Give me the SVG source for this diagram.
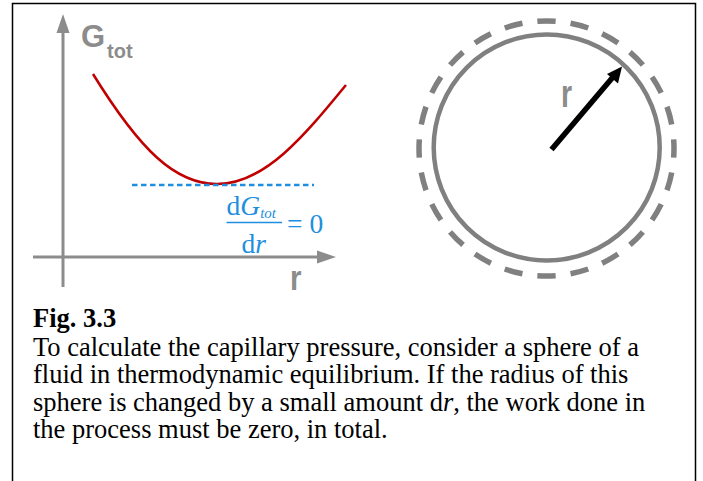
<svg xmlns="http://www.w3.org/2000/svg" width="703" height="481" viewBox="0 0 703 481">
<style>
.axis{stroke:#8c8c8c;stroke-width:3;fill:none}
.ahead{fill:#8c8c8c}
.glabel{font-family:"Liberation Sans",Arial,sans-serif;font-weight:bold;fill:#8c8c8c}
.math{font-family:"Liberation Serif","Times New Roman",serif;fill:#1e8fe0}
.cap{font-family:"Liberation Serif","Times New Roman",serif;font-size:26.5px;fill:#000}
</style>
<rect width="703" height="481" fill="#fff"/>
<g id="frame">
<path d="M12.5,481 V3.5 H695.5 V481" fill="none" stroke="#000" stroke-width="1.5"/>
</g>
<g id="plot">
<line class="axis" x1="63" y1="30" x2="63" y2="287"/>
<polygon class="ahead" points="63,14 56.5,33 69.5,33"/>
<line class="axis" x1="33" y1="257" x2="320" y2="257"/>
<polygon class="ahead" points="336,257 317,250.5 317,263.5"/>
<text class="glabel" x="81" y="47" font-size="31">G</text>
<text class="glabel" x="107" y="58" font-size="20">tot</text>
<text class="glabel" font-size="36" transform="translate(290,290) scale(0.82,1)">r</text>
<path d="M93,74 C140,150 175,184 217,184 C265,184 305,135 346,85" fill="none" stroke="#c00000" stroke-width="2.5"/>
<line x1="132" y1="185" x2="314" y2="185" stroke="#1e8fe0" stroke-width="2.5" stroke-dasharray="5.5,3.5"/>
<text class="math" x="226.5" y="215" font-size="27.5">d<tspan font-style="italic">G</tspan><tspan font-style="italic" font-size="15" dy="3">tot</tspan></text>
<line x1="226.5" y1="222.5" x2="282" y2="222.5" stroke="#1e8fe0" stroke-width="1.3"/>
<text class="math" x="287" y="233" font-size="27.5">= 0</text>
<text class="math" x="241.5" y="253" font-size="27.5">d<tspan font-style="italic">r</tspan></text>
</g>
<g id="sphere">
<circle cx="546.5" cy="148.5" r="127.5" fill="none" stroke="#808080" stroke-width="5.5" pathLength="240" stroke-dasharray="5.5 4.5" stroke-dashoffset="2.75"/>
<circle cx="546.7" cy="147.5" r="113" fill="none" stroke="#808080" stroke-width="4.5"/>
<line x1="551.5" y1="149.5" x2="613" y2="77" stroke="#000" stroke-width="5.5"/>
<polygon points="622,66.5 607,74 618,83.5" fill="#000"/>
<text class="glabel" font-size="38" transform="translate(561,107) scale(0.75,1)">r</text>
</g>
<g id="caption">
<text class="cap" x="33" y="327" font-weight="bold">Fig. 3.3</text>
<text class="cap" x="33" y="356">To calculate the capillary pressure, consider a sphere of a</text>
<text class="cap" x="33" y="383">fluid in thermodynamic equilibrium.  If the radius of this</text>
<text class="cap" x="33" y="411">sphere is changed by a small amount d<tspan font-style="italic">r</tspan>, the work done in</text>
<text class="cap" x="33" y="438">the process must be zero, in total.</text>
</g>
</svg>
